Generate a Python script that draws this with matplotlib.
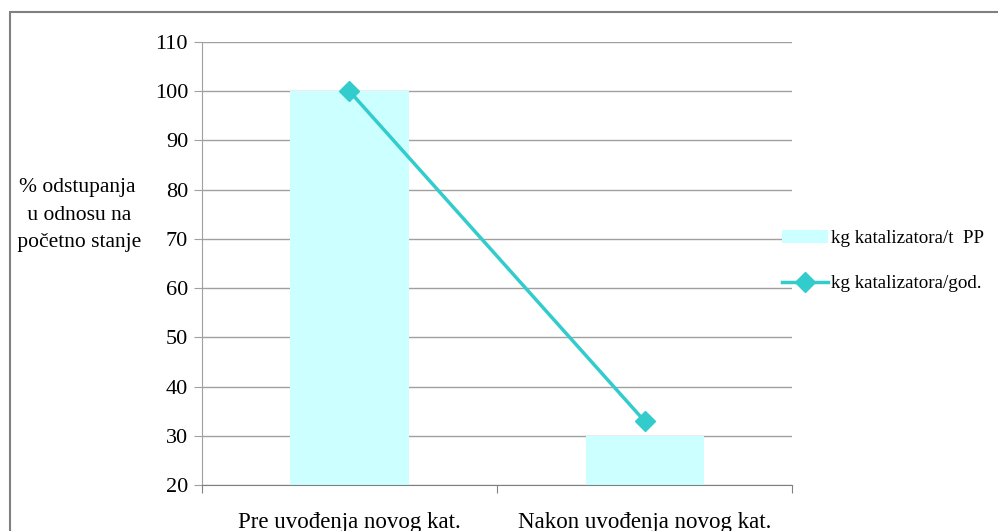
import matplotlib.pyplot as plt
from matplotlib.patches import Rectangle

categories = ["Pre uvođenja novog kat.", "Nakon uvođenja novog kat."]
kg_per_t_pp = [100, 30]
kg_per_year = [100, 33]
y_ticks = [20, 30, 40, 50, 60, 70, 80, 90, 100, 110]

bar_color = "#CCFFFF"
line_color = "#33CCCC"

plt.rcParams["font.family"] = ["Liberation Serif", "DejaVu Serif"]

fig = plt.figure(figsize=(9.98, 5.31), dpi=100)
ax = fig.add_axes([0.2024, 0.0866, 0.5912, 0.8343])

x = list(range(len(categories)))
bars = ax.bar(x, kg_per_t_pp, width=0.4, bottom=0, color=bar_color,
              label="kg katalizatora/t  PP", zorder=2)
line, = ax.plot(x, kg_per_year, color=line_color, lw=2.5, marker="D", ms=10,
                label="kg katalizatora/god.", zorder=3)

ax.set_xlim(-0.5, 1.5)
ax.set_ylim(20, 110)
ax.set_yticks(y_ticks)
ax.set_yticklabels([str(v) for v in y_ticks], fontsize=16)
ax.yaxis.grid(True, color="#A0A0A0", lw=1)
ax.set_axisbelow(True)

# category boundaries get the tick marks, labels sit at the centres
ax.set_xticks([-0.5, 0.5, 1.5])
ax.set_xticklabels([])
ax.tick_params(axis="x", length=6, color="#808080")
ax.tick_params(axis="y", length=6, color="#A0A0A0", pad=4)
for xi, name in zip(x, categories):
    ax.text(xi, -0.085, name, transform=ax.get_xaxis_transform(),
            ha="center", va="center", fontsize=16.5)

for side in ("top", "right"):
    ax.spines[side].set_visible(False)
ax.spines["left"].set_color("#A0A0A0")
ax.spines["bottom"].set_color("#808080")

fig.text(0.077, 0.595, "% odstupanja\n u odnosu na\n početno stanje",
         ha="center", va="center", fontsize=15.5, linespacing=1.6)

ax.legend([bars, line], [bars.get_label(), line.get_label()],
          loc="center left", bbox_to_anchor=(0.954, 0.505), frameon=False,
          fontsize=13.7, handlelength=2.4, handletextpad=0.2, labelspacing=1.45)

# outer frame around the chart area
fig.patches.append(Rectangle((0.010, -0.05), 0.995, 1.027, transform=fig.transFigure,
                             fill=False, edgecolor="#808080", lw=1.5))

fig.savefig("out.png", dpi=100)
